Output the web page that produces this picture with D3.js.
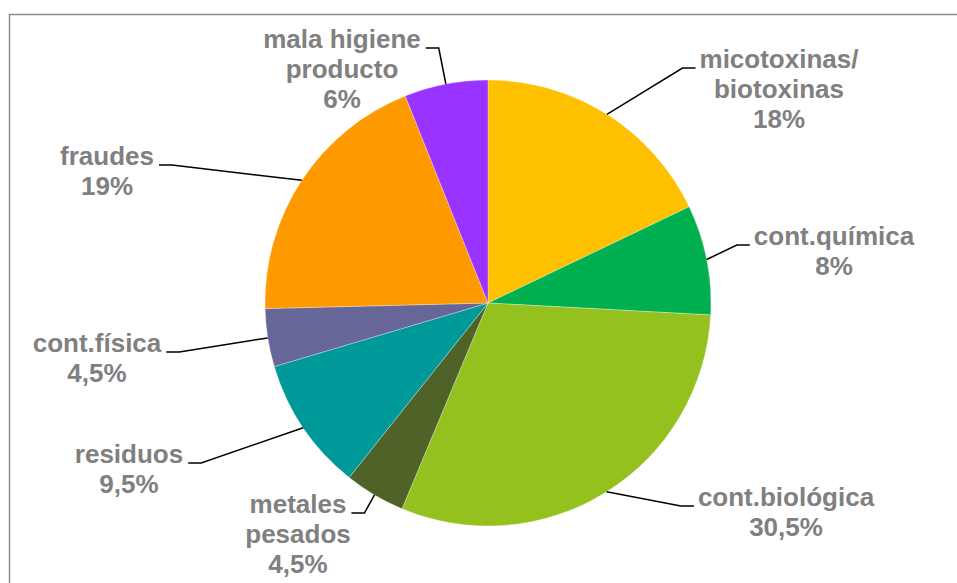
<!DOCTYPE html>
<html>
<head>
<meta charset="utf-8">
<script src="https://cdn.jsdelivr.net/npm/d3@7"></script>
<style>
  body { margin: 0; background: #fff; }
  text.lbl { font-family: "Liberation Sans", Arial, sans-serif; font-weight: bold; font-size: 26px; fill: #808080; }
</style>
</head>
<body>
<svg id="chart" width="957" height="583"></svg>
<script>
// data (slice sizes, labels as printed)
const categories = [["micotoxinas/", "biotoxinas"], ["cont.química"], ["cont.biológica"],
	["metales", "pesados"], ["residuos"], ["cont.física"], ["fraudes"], ["mala higiene", "producto"]]
const values = [17.9, 7.95, 30.45, 4.4, 9.7, 4.2, 19.35, 6.05]
const pct_labels = ["18%", "8%", "30,5%", "4,5%", "9,5%", "4,5%", "19%", "6%"]
const colors = ["#FFC000", "#00B050", "#95C11F", "#4F6228", "#009999", "#666699", "#FF9900", "#9933FF"]

// label anchors (text centre, first baseline), placed by hand like the original
const label_pos = [[779, 68], [834, 245], [786, 506], [298, 513], [129, 463], [97, 352], [107, 165], [342, 48]]

const width = 957, height = 583
const cx = 488, cy = 303, radius = 223
const line_gap = 30

const svg = d3.select("#chart")

// frame
svg.append("path")
	.attr("d", `M9.5,${height + 5}V14.5H${width + 5}`)
	.attr("fill", "none").attr("stroke", "#8c8c8c").attr("stroke-width", 1.5)

const pie = d3.pie().sort(null).value(d => d)
const arcs = pie(values)
const arc = d3.arc().innerRadius(0).outerRadius(radius)

const g = svg.append("g").attr("transform", `translate(${cx},${cy})`)
g.selectAll("path.slice")
	.data(arcs).enter().append("path")
	.classed("slice", true)
	.attr("d", arc)
	.attr("fill", (d, i) => colors[i])
	.attr("stroke", "#fff").attr("stroke-width", 0.3)

// labels + leader lines
const labels = svg.append("g").classed("labels", true)
arcs.forEach((d, i) => {
	const lines = categories[i].concat([pct_labels[i]])
	const [lx, ly] = label_pos[i]
	const t = labels.append("text").classed("lbl", true).attr("text-anchor", "middle")
	t.selectAll("tspan").data(lines).enter().append("tspan")
		.attr("x", lx)
		.attr("y", (s, j) => ly + j * line_gap)
		.text(s => s)

	const first_w = t.select("tspan").node().getComputedTextLength()
	const a = (d.startAngle + d.endAngle) / 2
	const px = cx + radius * Math.sin(a), py = cy - radius * Math.cos(a)
	const right_side = lx > cx
	const end_x = right_side ? lx - first_w / 2 - 4 : lx + first_w / 2 + 5
	const elbow_x = right_side ? end_x - 13 : end_x + 13

	labels.append("path")
		.attr("d", `M${px},${py}L${elbow_x},${ly}H${end_x}`)
		.attr("fill", "none").attr("stroke", "#000").attr("stroke-width", 1.5)
})
</script>
</body>
</html>
